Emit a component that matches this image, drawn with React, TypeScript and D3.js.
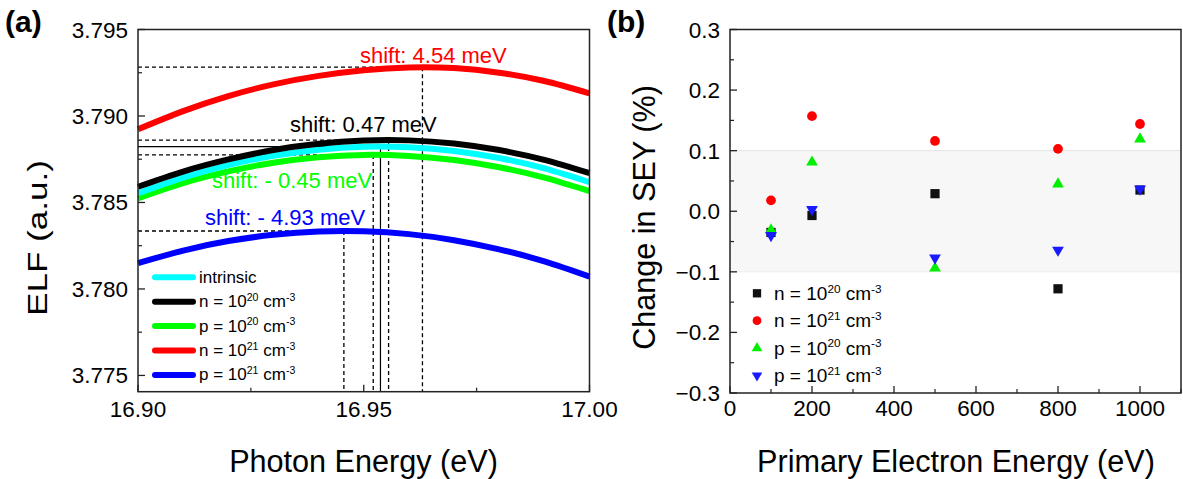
import React from "react";
import * as d3 from "d3";

// panel (a): ELF near the peak
const photonEnergy = [16.9, 16.91, 16.92, 16.93, 16.94, 16.95, 16.96, 16.97, 16.98, 16.99, 17.0];
const elfIntrinsic = [3.78553, 3.78644, 3.78716, 3.7877, 3.78805, 3.78822, 3.78819, 3.78798, 3.78757, 3.78697, 3.78617];
const elfN20 = [3.78591, 3.78679, 3.78749, 3.78803, 3.78839, 3.78858, 3.78859, 3.78841, 3.78803, 3.78746, 3.78669];
const elfP20 = [3.78524, 3.78612, 3.7868, 3.7873, 3.78762, 3.78775, 3.78769, 3.78746, 3.78704, 3.78644, 3.78566];
const elfN21 = [3.78923, 3.79028, 3.79115, 3.79183, 3.79232, 3.79265, 3.79281, 3.79277, 3.7925, 3.79202, 3.79131];
const elfP21 = [3.78149, 3.78222, 3.78277, 3.78313, 3.78332, 3.78333, 3.78317, 3.78282, 3.78229, 3.78159, 3.78071];

const seriesNames = ["intrinsic", "n20", "p20", "n21", "p21"];
const seriesColors = ["#00ffff", "#000000", "#00ff00", "#ff0000", "#0000ff"];
const peakEnergy = [16.9537, 16.9555, 16.9521, 16.963, 16.9456];
const peakElf = [3.78823, 3.78861, 3.78775, 3.79282, 3.78335];
const shiftText = ["", "shift: 0.47 meV", "shift: - 0.45 meV", "shift: 4.54 meV", "shift: - 4.93 meV"];
const elfTicks = [3.775, 3.78, 3.785, 3.79, 3.795];
const photonTicks = [16.9, 16.95, 17.0];

// panel (b): change in SEY
const primaryEnergy = [100, 200, 500, 800, 1000];
const seyN20 = [-0.035, -0.007, 0.029, -0.128, 0.035];
const seyN21 = [0.018, 0.157, 0.116, 0.103, 0.144];
const seyP20 = [-0.031, 0.081, -0.094, 0.045, 0.119];
const seyP21 = [-0.04, 0.003, -0.077, -0.064, 0.037];
const seyTicks = [-0.3, -0.2, -0.1, 0, 0.1, 0.2, 0.3];
const primaryTicks = [0, 200, 400, 600, 800, 1000];

const FONT = "Liberation Sans, Arial, sans-serif";
const TICK_FS = 22.5;

const Conc = ({ c, e, sz }: { c: string; e: string; sz: number }) => (
  <>
    {c} = 10
    <tspan fontSize={sz * 0.62} dy={-sz * 0.38}>{e}</tspan>
    <tspan dy={sz * 0.38}> cm</tspan>
    <tspan fontSize={sz * 0.62} dy={-sz * 0.38}>-3</tspan>
  </>
);

const legendA = [
  { label: "intrinsic", color: "#00ffff" },
  { label: "n", e: "20", color: "#000000" },
  { label: "p", e: "20", color: "#00ff00" },
  { label: "n", e: "21", color: "#ff0000" },
  { label: "p", e: "21", color: "#0000ff" },
];

export default function App() {
  // ---------- panel (a) ----------
  const xA = d3.scaleLinear().domain([16.9, 17.0]).range([138, 589.5]);
  const yA = d3.scaleLinear().domain([3.77406, 3.795]).range([391.7, 29.5]);
  const line = d3
    .line<number>()
    .x((d, i) => xA(photonEnergy[i]))
    .y((d) => yA(d))
    .curve(d3.curveNatural);
  const curves = [elfIntrinsic, elfN20, elfP20, elfN21, elfP21];
  const drawOrder = [3, 4, 2, 0, 1];

  const elfMinor = d3.range(3.7775, 3.795, 0.005);
  const photonMinor = [16.925, 16.975];
  const fmt3 = d3.format(".3f");
  const fmt2 = d3.format(".2f");

  // ---------- panel (b) ----------
  const xB = d3.scaleLinear().domain([0, 1100]).range([730, 1181]);
  const yB = d3.scaleLinear().domain([-0.3, 0.3]).range([393, 29.5]);
  const seyMinor = d3.range(-0.25, 0.3, 0.1);
  const primaryMinor = [100, 300, 500, 700, 900, 1100];
  const fmt1 = d3.format(".1f");

  const sym = {
    square: d3.symbol(d3.symbolSquare, 85)(),
    circle: d3.symbol(d3.symbolCircle, 75)(),
    tri: d3.symbol(d3.symbolTriangle, 60)(),
  };
  const seyGroups = [
    { vals: seyN20, color: "#111111", path: sym.square, rot: 0, e: "20", c: "n" },
    { vals: seyN21, color: "#ff0000", path: sym.circle, rot: 0, e: "21", c: "n" },
    { vals: seyP20, color: "#00ee00", path: sym.tri, rot: 0, e: "20", c: "p" },
    { vals: seyP21, color: "#1a1aff", path: sym.tri, rot: 180, e: "21", c: "p" },
  ];

  return (
    <svg width={1183} height={479} style={{ display: "block", position: "absolute", left: 0, top: 0 }} fontFamily={FONT}>
      <rect width={1183} height={479} fill="#fff" />

      {/* ===== panel (a) ===== */}
      <text x={5} y={31.5} fontSize={30} fontWeight="bold">(a)</text>

      {/* reference lines */}
      {peakEnergy.map((pe, i) => {
        const dash = i === 0 ? undefined : "4,3";
        const w = i === 0 ? 1.2 : 1.3;
        return (
          <g key={"ref" + i} stroke="#000" strokeWidth={w} strokeDasharray={dash} fill="none">
            <line x1={xA(16.9)} x2={xA(pe)} y1={yA(peakElf[i])} y2={yA(peakElf[i])} />
            <line x1={xA(pe)} x2={xA(pe)} y1={yA(peakElf[i])} y2={391.7} />
          </g>
        );
      })}

      {drawOrder.map((i) => (
        <path key={seriesNames[i]} d={line(curves[i]) || ""} fill="none" stroke={seriesColors[i]} strokeWidth={6} />
      ))}

      {/* shift annotations */}
      <text x={360} y={63} fontSize={22} fill="#ff0000">{shiftText[3]}</text>
      <text x={290} y={132} fontSize={22} fill="#000">{shiftText[1]}</text>
      <text x={212} y={188} fontSize={22} fill="#00ff00">{shiftText[2]}</text>
      <text x={205} y={225} fontSize={22} fill="#0000ff">{shiftText[4]}</text>

      {/* legend (a) */}
      {legendA.map((d, i) => {
        const cy = 277.3 + i * 24.4;
        return (
          <g key={"la" + i}>
            <line x1={155} x2={193} y1={cy} y2={cy} stroke={d.color} strokeWidth={6} strokeLinecap="round" />
            <text x={199} y={cy + 5.5} fontSize={17}>
              {d.e ? <Conc c={d.label} e={d.e} sz={17} /> : d.label}
            </text>
          </g>
        );
      })}

      {/* frame + ticks (a) */}
      <rect x={138} y={29.5} width={589.5 - 138} height={391.7 - 29.5} fill="none" stroke="#222" strokeWidth={1.5} />
      {elfTicks.map((t) => (
        <g key={"ya" + t}>
          <line x1={138} x2={145} y1={yA(t)} y2={yA(t)} stroke="#222" strokeWidth={1.3} />
          <text x={128} y={yA(t) + 8} fontSize={TICK_FS} textAnchor="end">{fmt3(t)}</text>
        </g>
      ))}
      {elfMinor.map((t) => (
        <line key={"yam" + t} x1={138} x2={142} y1={yA(t)} y2={yA(t)} stroke="#222" strokeWidth={1.2} />
      ))}
      {photonTicks.map((t) => (
        <g key={"xa" + t}>
          <line x1={xA(t)} x2={xA(t)} y1={391.7} y2={384.7} stroke="#222" strokeWidth={1.3} />
          <text x={xA(t)} y={416.7} fontSize={TICK_FS} textAnchor="middle">{fmt2(t)}</text>
        </g>
      ))}
      {photonMinor.map((t) => (
        <line key={"xam" + t} x1={xA(t)} x2={xA(t)} y1={391.7} y2={387.7} stroke="#222" strokeWidth={1.2} />
      ))}
      <text x={363.5} y={472} fontSize={30.6} textAnchor="middle">Photon Energy (eV)</text>
      <text transform="translate(46.5,238) rotate(-90) scale(1.3,1)" fontSize={27} textAnchor="middle">ELF (a.u.)</text>

      {/* ===== panel (b) ===== */}
      <text x={607} y={31.5} fontSize={30} fontWeight="bold">(b)</text>

      <rect x={730} y={yB(0.1)} width={1181 - 730} height={yB(-0.1) - yB(0.1)} fill="#f7f7f7" />
      <line x1={730} x2={1181} y1={yB(0.1)} y2={yB(0.1)} stroke="#e2e2e2" strokeWidth={1} />
      <line x1={730} x2={1181} y1={yB(-0.1)} y2={yB(-0.1)} stroke="#ececec" strokeWidth={1} />

      {seyGroups.map((g, gi) => (
        <g key={"sg" + gi} fill={g.color}>
          {g.vals.map((v, i) => (
            <path key={i} d={g.path || ""} transform={`translate(${xB(primaryEnergy[i])},${yB(v)}) rotate(${g.rot})`} />
          ))}
        </g>
      ))}

      {/* legend (b) */}
      {seyGroups.map((g, gi) => {
        const cy = 293.3 + gi * 27.4;
        return (
          <g key={"lb" + gi}>
            <path d={g.path || ""} fill={g.color} transform={`translate(757,${cy}) rotate(${g.rot}) scale(0.9)`} />
            <text x={774} y={cy + 6.5} fontSize={19}>
              <Conc c={g.c} e={g.e} sz={19} />
            </text>
          </g>
        );
      })}

      <rect x={730} y={29.5} width={1181 - 730} height={393 - 29.5} fill="none" stroke="#222" strokeWidth={1.5} />
      {seyTicks.map((t) => (
        <g key={"yb" + t}>
          <line x1={730} x2={737} y1={yB(t)} y2={yB(t)} stroke="#222" strokeWidth={1.3} />
          <text x={720} y={yB(t) + 8} fontSize={TICK_FS} textAnchor="end">{fmt1(t)}</text>
        </g>
      ))}
      {seyMinor.map((t) => (
        <line key={"ybm" + t} x1={730} x2={734} y1={yB(t)} y2={yB(t)} stroke="#222" strokeWidth={1.2} />
      ))}
      {primaryTicks.map((t) => (
        <g key={"xb" + t}>
          <line x1={xB(t)} x2={xB(t)} y1={393} y2={386} stroke="#222" strokeWidth={1.3} />
          <text x={xB(t)} y={416} fontSize={TICK_FS} textAnchor="middle">{t}</text>
        </g>
      ))}
      {primaryMinor.map((t) => (
        <line key={"xbm" + t} x1={xB(t)} x2={xB(t)} y1={393} y2={389} stroke="#222" strokeWidth={1.2} />
      ))}
      <text x={956} y={472} fontSize={30.6} textAnchor="middle">Primary Electron Energy (eV)</text>
      <text transform="translate(655,217.5) rotate(-90)" fontSize={30.6} textAnchor="middle">Change in SEY (%)</text>
    </svg>
  );
}
